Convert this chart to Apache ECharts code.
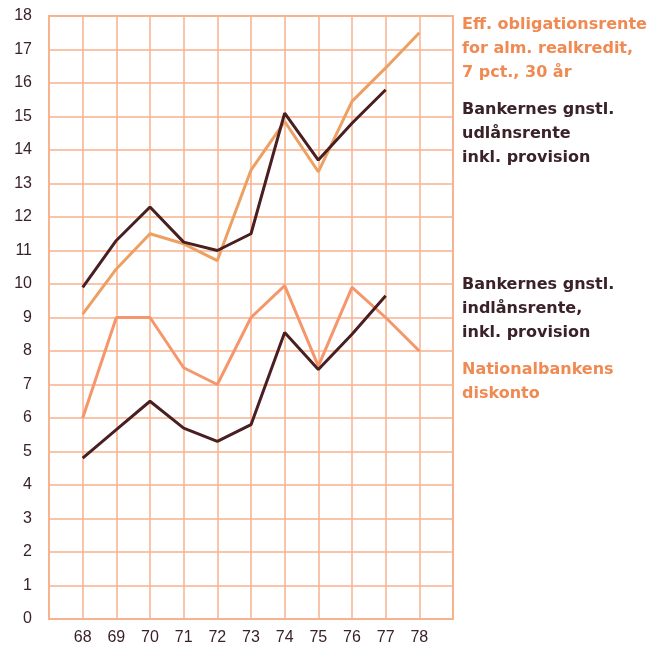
<!DOCTYPE html>
<html>
<head>
<meta charset="utf-8">
<script src="https://cdn.jsdelivr.net/npm/echarts@6/dist/echarts.min.js"></script>
<style>
  html, body { margin: 0; padding: 0; background: #fff; }
  #chart { width: 654px; height: 646px; }
</style>
</head>
<body>
<div id="chart"></div>
<script>
var years = [68, 69, 70, 71, 72, 73, 74, 75, 76, 77, 78]
var obligationsrente = [9.1, 10.45, 11.5, 11.2, 10.7, 13.4, 14.85, 13.35, 15.45, 16.45, 17.5]
var udlaansrente = [9.9, 11.3, 12.3, 11.25, 11.0, 11.5, 15.1, 13.7, 14.8, 15.8, null]
var indlaansrente = [4.8, 5.65, 6.5, 5.7, 5.3, 5.8, 8.55, 7.45, 8.5, 9.65, null]
var diskonto = [6.0, 9.0, 9.0, 7.5, 7.0, 9.0, 9.95, 7.55, 9.9, 9.0, 8.0]

function pairs(vals) {
  return years.map(function (y, i) { return [y, vals[i]] }).filter(function (p) { return p[1] !== null })
}

var gridColor = '#f7b28e'
var darkText = '#3a2228'
var orangeText = '#f08a52'
var legendFont = 'bold 16px "DejaVu Sans"'

var myChart = echarts.init(document.getElementById('chart'))
var option = {
  animation: false,
  grid: {
    left: 49, right: 201, top: 16, bottom: 26,
    show: true, borderColor: gridColor, borderWidth: 2
  },
  xAxis: {
    type: 'value', min: 67, max: 79, interval: 1,
    axisLine: { show: false }, axisTick: { show: false },
    splitLine: { lineStyle: { color: gridColor, width: 1.5 } },
    axisLabel: {
      margin: 11, color: darkText, fontSize: 16, fontFamily: 'Liberation Sans',
      formatter: function (v) { return (v >= 68 && v <= 78) ? String(v) : '' }
    }
  },
  yAxis: {
    type: 'value', min: 0, max: 18, interval: 1,
    axisLine: { show: false }, axisTick: { show: false },
    splitLine: { lineStyle: { color: gridColor, width: 1.5 } },
    axisLabel: { margin: 17, color: darkText, fontSize: 16, fontFamily: 'Liberation Sans' }
  },
  series: [
    { name: 'Eff. obligationsrente', type: 'line', data: pairs(obligationsrente), symbol: 'none',
      lineStyle: { color: '#eda062', width: 3 } },
    { name: 'Nationalbankens diskonto', type: 'line', data: pairs(diskonto), symbol: 'none',
      lineStyle: { color: '#f5966c', width: 3 } },
    { name: 'Bankernes gnstl. udlånsrente', type: 'line', data: pairs(udlaansrente), symbol: 'none',
      lineStyle: { color: '#4a1f22', width: 3 } },
    { name: 'Bankernes gnstl. indlånsrente', type: 'line', data: pairs(indlaansrente), symbol: 'none',
      lineStyle: { color: '#4a1f22', width: 3 } }
  ],
  graphic: [
    { type: 'text', left: 462, top: 13, style: {
      text: 'Eff. obligationsrente\nfor alm. realkredit,\n7 pct., 30 år',
      fill: orangeText, font: legendFont, lineHeight: 24 } },
    { type: 'text', left: 462, top: 98, style: {
      text: 'Bankernes gnstl.\nudlånsrente\ninkl. provision',
      fill: darkText, font: legendFont, lineHeight: 24 } },
    { type: 'text', left: 462, top: 273, style: {
      text: 'Bankernes gnstl.\nindlånsrente,\ninkl. provision',
      fill: darkText, font: legendFont, lineHeight: 24 } },
    { type: 'text', left: 462, top: 358, style: {
      text: 'Nationalbankens\ndiskonto',
      fill: orangeText, font: legendFont, lineHeight: 24 } }
  ]
}
myChart.setOption(option)
</script>
</body>
</html>
